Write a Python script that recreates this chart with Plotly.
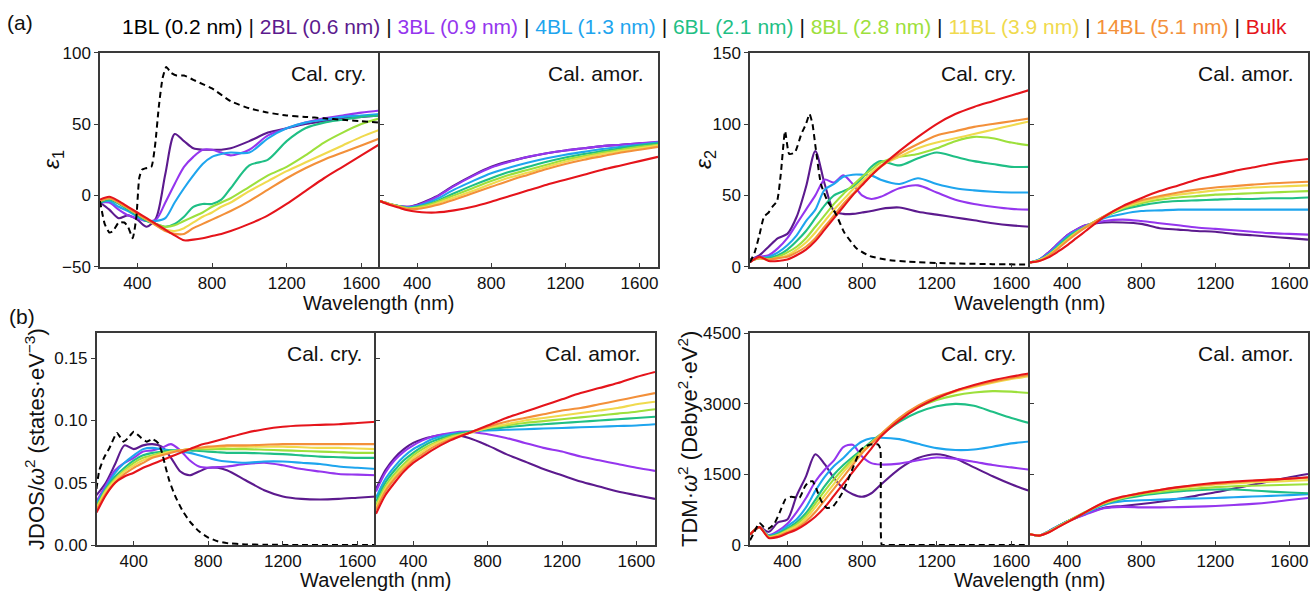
import plotly.graph_objects as go

W, H = 1312, 592
FONT = "Liberation Sans, Arial, Helvetica, sans-serif"

SERIES = ["1BL (0.2 nm)", "2BL (0.6 nm)", "3BL (0.9 nm)", "4BL (1.3 nm)", "6BL (2.1 nm)",
          "8BL (2.8 nm)", "11BL (3.9 nm)", "14BL (5.1 nm)", "Bulk"]
COLORS = ["#000000", "#5c1a8e", "#9536ee", "#1ea5ee", "#1fbf85", "#9de03c", "#f0da4e", "#f3903a", "#e5141b"]

WL_CRY = [200, 250, 300, 350, 400, 450, 500, 550, 600, 650, 700, 750, 800, 850, 900,
          1000, 1100, 1200, 1300, 1400, 1500, 1600, 1700]
WL_AMOR = [200, 250, 300, 350, 400, 450, 500, 600, 700, 800, 900, 1000, 1100, 1200,
           1300, 1400, 1500, 1600, 1700]
X_TICKS = [400, 800, 1200, 1600]

# ---------------- epsilon_1, crystalline ----------------
EPS1_CRY_1BL_X = [200, 225, 250, 270, 300, 330, 350, 375, 395, 410, 425, 445, 475, 495, 515, 535,
                  555, 580, 610, 650, 700, 750, 800, 900, 1000, 1100, 1200, 1300, 1400, 1500, 1600, 1700]
EPS1_CRY_1BL = [-4, -20, -26, -25, -19, -19, -22, -30, -15, 12, 18, 19, 20, 35, 62, 82,
                90, 86, 84, 84, 81, 78, 75, 66, 61, 58, 56, 55, 54, 53, 52, 51]
EPS1_CRY_2BL = [-5, -10, -16, -14, -17, -22, -16, 15, 43, 38, 33, 32, 32, 32, 33, 38, 44, 47, 50, 52, 54, 55, 56]
EPS1_CRY_3BL = [-5, -5, -10, -14, -16, -18, -17, -5, 8, 20, 27, 32, 32, 30, 28, 32, 42, 47, 51, 54, 56, 58, 59.5]
EPS1_CRY_4BL = [-5, -4, -8, -11, -15, -18, -18, -16, -5, 5, 14, 22, 27, 29, 30, 30, 40, 47, 51, 53, 55, 56, 57]
EPS1_CRY_6BL = [-5, -3, -6, -10, -14, -18, -20, -22, -20, -15, -8, -6, -6, -3, 5, 21, 25, 38, 47, 51, 53, 55, 56]
EPS1_CRY_8BL = [-4, -2, -5, -9, -13, -17, -20, -22, -21, -18, -15, -12, -8, -5, -2, 6, 14, 20, 28, 37, 44, 50, 54]
EPS1_CRY_11BL = [-4, -2, -5, -9, -13, -17, -21, -24, -25, -23, -19, -15, -12, -8, -5, 3, 10, 17, 23, 29, 35, 41, 46]
EPS1_CRY_14BL = [-4, -2, -5, -9, -13, -17, -21, -25, -27, -27, -23, -20, -17, -14, -11, -4, 4, 12, 19, 25, 30, 35, 40]
EPS1_CRY_BULK = [-3, -1, -4, -8, -12, -16, -20, -24, -28, -31.5, -31, -30, -28.5, -27, -25, -20, -14, -6, 3, 12, 20, 28, 36]

# ---------------- epsilon_1, amorphous ----------------
EPS1_AMOR_2BL = [-4, -6, -7.5, -8, -6.5, -4, -1, 7, 14, 20, 24, 27, 29.5, 31.5, 33, 34.5, 35.5, 36.5, 37]
EPS1_AMOR_3BL = [-4, -6, -7.5, -8, -7, -4.5, -1.5, 6.5, 13.5, 19.5, 23.5, 27, 29.5, 31.5, 33, 34.5, 35.5, 36.5, 37.5]
EPS1_AMOR_4BL = [-4, -6, -7.5, -8.5, -7.5, -5.5, -3, 4, 10, 15.5, 19.5, 23, 26, 28.5, 30.5, 32.5, 34, 35.5, 37]
EPS1_AMOR_6BL = [-4, -6, -7.5, -9, -8, -6.5, -4.5, 1.5, 7, 12, 16.5, 20, 23.5, 26.5, 29, 31, 33, 35, 36.5]
EPS1_AMOR_8BL = [-4, -6, -7.5, -9, -8.5, -7, -5, 0, 5, 10, 14.5, 18, 21.5, 25, 27.5, 30, 32, 34, 35.5]
EPS1_AMOR_11BL = [-4, -6, -8, -9.5, -9, -8, -6, -1.5, 3, 8, 12.5, 16, 20, 23.5, 26.5, 29, 31, 33, 35]
EPS1_AMOR_14BL = [-4, -6, -8, -9.5, -9.5, -8.5, -7, -3, 1.5, 6, 10.5, 14.5, 18.5, 22, 25, 27.5, 30, 32, 34]
EPS1_AMOR_BULK = [-4, -6.5, -8.5, -10.5, -11.5, -12, -12, -10.5, -8, -4.5, -0.5, 3.5, 7.5, 11, 14.5, 18, 21, 24, 27]

# ---------------- epsilon_2, crystalline ----------------
EPS2_CRY_1BL_X = [200, 225, 250, 275, 300, 320, 345, 365, 388, 410, 440, 475, 500, 519, 535, 550,
                  580, 615, 660, 705, 770, 840, 950, 1050, 1250, 1500, 1700]
EPS2_CRY_1BL = [3, 10, 22, 35, 38, 42, 46, 65, 95, 79, 80, 93, 100, 107, 100, 85,
                58, 46, 37, 24, 13, 7.5, 4.5, 3.5, 2.4, 1.8, 1.5]
EPS2_CRY_2BL = [5, 8, 14, 20, 23, 35, 56, 81, 58, 39, 37, 37, 38, 39, 40.5, 41.5, 38.5, 36.5, 34.5, 32.5, 30.5, 29, 28]
EPS2_CRY_3BL = [5, 7, 8, 13, 20, 30, 40, 50, 61, 59, 64, 58, 50, 47.5, 49, 55, 57, 52, 47, 44, 42, 40.5, 40]
EPS2_CRY_4BL = [5, 6, 7, 10, 15, 22, 32, 40, 54, 58, 63, 64.5, 64.5, 64, 61, 58, 62, 58, 55, 53.5, 52.5, 52, 52]
EPS2_CRY_6BL = [4, 6, 6, 8, 12, 18, 25, 34, 43, 50, 53, 56, 62, 70, 74, 71, 76, 80, 77, 74, 72, 70, 70]
EPS2_CRY_8BL = [4, 6, 5, 7, 10, 14, 20, 28, 36, 44, 51, 57, 63, 68, 73, 77, 79, 83, 88, 91, 90, 87, 85]
EPS2_CRY_11BL = [4, 6, 5, 6, 8, 12, 17, 24, 32, 40, 47, 54, 60, 66, 71, 77, 83, 87, 90, 93, 96, 99, 102]
EPS2_CRY_14BL = [4, 6, 5, 6, 7, 10, 14, 20, 28, 36, 44, 51, 58, 64, 70, 79, 86, 92, 95, 98, 100, 102, 104]
EPS2_CRY_BULK = [3, 7, 4, 4, 5, 8, 12, 18, 26, 34, 42, 50, 57, 64, 70, 81, 91, 100, 107, 112, 116, 120, 124]

# ---------------- epsilon_2, amorphous ----------------
EPS2_AMOR_2BL = [3, 5, 10, 16, 22, 26, 29, 31, 31, 30, 27, 26, 25, 24.5, 23, 22, 21, 20, 19]
EPS2_AMOR_3BL = [3, 5, 10, 16, 22, 26, 29, 32, 33, 32, 30.5, 29, 27.5, 26.5, 25.5, 24.5, 23.5, 23, 22.5]
EPS2_AMOR_4BL = [3, 5, 9, 15, 21, 25, 28, 34, 37, 39, 39.5, 40, 40, 40, 40, 40, 40, 40, 40]
EPS2_AMOR_6BL = [3, 4.5, 8.5, 14, 20, 24.5, 28, 35, 40, 43, 45, 46, 46.5, 47, 47.5, 47.5, 48, 48, 48.5]
EPS2_AMOR_8BL = [3, 4.5, 8, 13.5, 19, 24, 28, 35, 41, 44.5, 47, 48.5, 49.5, 50.5, 51, 51.5, 52, 52.5, 53]
EPS2_AMOR_11BL = [3, 4.5, 8, 13, 18.5, 23.5, 27.5, 35, 41.5, 45.5, 48.5, 50.5, 52, 53.5, 54.5, 55.5, 56, 56.5, 57]
EPS2_AMOR_14BL = [3, 4, 7.5, 12.5, 18, 23, 27.5, 35.5, 42, 46.5, 49.5, 52, 54, 55.5, 56.5, 57.5, 58.5, 59, 59.5]
EPS2_AMOR_BULK = [3, 4, 6.5, 10.5, 15, 20, 25, 35, 42.5, 48, 53, 57, 61, 64, 67, 69.5, 72, 74, 75.5]

# ---------------- JDOS/omega^2, crystalline ----------------
JDOS_CRY_1BL_X = [200, 215, 240, 270, 310, 345, 370, 400, 440, 470, 500, 530, 550, 570, 590, 620,
                  660, 700, 750, 800, 850, 900, 1000, 1100, 1300, 1700]
JDOS_CRY_1BL = [0.045, 0.06, 0.07, 0.078, 0.09, 0.083, 0.086, 0.091, 0.086, 0.083, 0.085, 0.082, 0.075,
                0.063, 0.052, 0.04, 0.028, 0.019, 0.011, 0.006, 0.003, 0.0015, 0.0005, 0.0002, 0, 0]
JDOS_CRY_2BL = [0.04, 0.05, 0.065, 0.08, 0.077, 0.08, 0.081, 0.079, 0.07, 0.059, 0.056, 0.059, 0.062, 0.062,
                0.06, 0.052, 0.044, 0.039, 0.037, 0.0365, 0.037, 0.038, 0.039]
JDOS_CRY_3BL = [0.035, 0.048, 0.06, 0.066, 0.07, 0.075, 0.076, 0.078, 0.081, 0.076, 0.068, 0.063, 0.062,
                0.0625, 0.063, 0.065, 0.066, 0.064, 0.061, 0.059, 0.057, 0.0565, 0.056]
JDOS_CRY_4BL = [0.033, 0.046, 0.058, 0.066, 0.072, 0.077, 0.078, 0.077, 0.076, 0.075, 0.074, 0.072, 0.07,
                0.068, 0.067, 0.066, 0.067, 0.067, 0.066, 0.065, 0.063, 0.062, 0.061]
JDOS_CRY_6BL = [0.031, 0.045, 0.055, 0.062, 0.068, 0.072, 0.074, 0.075, 0.076, 0.076, 0.076, 0.0755, 0.075,
                0.0745, 0.074, 0.074, 0.0735, 0.073, 0.072, 0.071, 0.0705, 0.07, 0.07]
JDOS_CRY_8BL = [0.03, 0.044, 0.053, 0.06, 0.066, 0.07, 0.072, 0.074, 0.075, 0.076, 0.077, 0.077, 0.077,
                0.077, 0.077, 0.077, 0.0765, 0.076, 0.0755, 0.075, 0.0745, 0.074, 0.074]
JDOS_CRY_11BL = [0.029, 0.043, 0.052, 0.059, 0.064, 0.068, 0.071, 0.073, 0.075, 0.076, 0.077, 0.078, 0.078,
                 0.0785, 0.079, 0.079, 0.079, 0.079, 0.0785, 0.078, 0.078, 0.0775, 0.077]
JDOS_CRY_14BL = [0.028, 0.041, 0.05, 0.057, 0.062, 0.066, 0.07, 0.072, 0.074, 0.076, 0.077, 0.078, 0.079,
                 0.0795, 0.08, 0.08, 0.0805, 0.081, 0.081, 0.081, 0.081, 0.081, 0.081]
JDOS_CRY_BULK = [0.026, 0.04, 0.05, 0.055, 0.058, 0.062, 0.065, 0.068, 0.071, 0.074, 0.077, 0.08, 0.082,
                 0.084, 0.086, 0.09, 0.093, 0.095, 0.096, 0.0965, 0.097, 0.098, 0.099]

# ---------------- JDOS/omega^2, amorphous ----------------
JDOS_AMOR_2BL = [0.045, 0.06, 0.07, 0.077, 0.082, 0.085, 0.087, 0.089, 0.086, 0.08, 0.073, 0.067, 0.061,
                 0.056, 0.051, 0.047, 0.043, 0.04, 0.037]
JDOS_AMOR_3BL = [0.043, 0.058, 0.068, 0.075, 0.08, 0.084, 0.087, 0.09, 0.091, 0.089, 0.086, 0.082, 0.078,
                 0.075, 0.071, 0.068, 0.065, 0.062, 0.0595]
JDOS_AMOR_4BL = [0.038, 0.053, 0.063, 0.071, 0.077, 0.081, 0.085, 0.089, 0.091, 0.092, 0.0925, 0.093, 0.0935,
                 0.094, 0.0945, 0.095, 0.0955, 0.096, 0.097]
JDOS_AMOR_6BL = [0.035, 0.05, 0.06, 0.068, 0.074, 0.079, 0.083, 0.088, 0.091, 0.093, 0.0945, 0.096, 0.097,
                 0.098, 0.099, 0.1, 0.101, 0.102, 0.103]
JDOS_AMOR_8BL = [0.032, 0.047, 0.057, 0.065, 0.072, 0.077, 0.081, 0.087, 0.09, 0.094, 0.096, 0.098, 0.0995,
                 0.101, 0.1025, 0.104, 0.1055, 0.107, 0.109]
JDOS_AMOR_11BL = [0.03, 0.045, 0.055, 0.063, 0.07, 0.075, 0.08, 0.086, 0.09, 0.094, 0.097, 0.1, 0.102,
                  0.104, 0.106, 0.108, 0.11, 0.113, 0.115]
JDOS_AMOR_14BL = [0.028, 0.043, 0.053, 0.061, 0.068, 0.073, 0.078, 0.085, 0.09, 0.095, 0.099, 0.102, 0.105,
                  0.108, 0.11, 0.113, 0.116, 0.119, 0.122]
JDOS_AMOR_BULK = [0.025, 0.04, 0.05, 0.059, 0.066, 0.071, 0.076, 0.084, 0.09, 0.096, 0.102, 0.107, 0.112,
                  0.117, 0.122, 0.126, 0.13, 0.135, 0.139]

# ---------------- TDM*omega^2, crystalline ----------------
TDM_CRY_1BL_X = [200, 220, 250, 275, 300, 330, 360, 390, 420, 465, 495, 515, 535, 555, 580, 610, 640,
                 670, 700, 740, 795, 840, 885, 898, 906, 920, 1100, 1400, 1700]
TDM_CRY_1BL = [100, 250, 470, 380, 350, 450, 700, 970, 1025, 1005, 1250, 1340, 1356, 1200, 950, 790, 800,
               950, 1150, 1530, 2030, 2130, 2140, 2050, 0, 0, 0, 0, 0]
TDM_CRY_2BL = [220, 380, 280, 480, 540, 1050, 1460, 1930, 1720, 1420, 1200, 1080, 1025, 1100, 1280, 1620,
               1850, 1930, 1840, 1650, 1460, 1290, 1145]
TDM_CRY_3BL = [220, 380, 210, 300, 450, 700, 1000, 1350, 1600, 1800, 2080, 2130, 1880, 1740, 1710, 1730,
               1800, 1860, 1830, 1770, 1700, 1650, 1600]
TDM_CRY_4BL = [220, 380, 200, 260, 400, 550, 800, 1150, 1450, 1680, 1850, 2050, 2200, 2270, 2280, 2250,
               2150, 2060, 2020, 2030, 2090, 2160, 2200]
TDM_CRY_6BL = [220, 380, 190, 240, 350, 480, 680, 960, 1250, 1500, 1700, 1870, 2030, 2200, 2350, 2620,
               2820, 2950, 3000, 2960, 2830, 2700, 2590]
TDM_CRY_8BL = [220, 380, 180, 220, 320, 440, 620, 880, 1150, 1400, 1620, 1820, 2000, 2180, 2350, 2680,
               2920, 3080, 3180, 3240, 3270, 3260, 3230]
TDM_CRY_11BL = [220, 380, 170, 210, 300, 400, 560, 800, 1050, 1300, 1550, 1770, 1980, 2170, 2350, 2690,
                2950, 3130, 3260, 3360, 3450, 3530, 3590]
TDM_CRY_14BL = [220, 380, 160, 190, 270, 360, 500, 700, 950, 1200, 1450, 1700, 1950, 2150, 2350, 2700,
                2960, 3150, 3280, 3380, 3470, 3550, 3620]
TDM_CRY_BULK = [220, 380, 150, 170, 250, 330, 450, 600, 800, 1050, 1300, 1550, 1800, 2050, 2300, 2650,
                2920, 3120, 3280, 3400, 3500, 3580, 3650]

# ---------------- TDM*omega^2, amorphous ----------------
TDM_AMOR_2BL = [230, 200, 290, 400, 500, 580, 660, 790, 830, 870, 920, 980, 1050, 1120, 1200, 1280, 1360, 1440, 1510]
TDM_AMOR_3BL = [230, 200, 290, 400, 500, 580, 650, 780, 810, 800, 800, 805, 815, 830, 850, 875, 910, 955, 1000]
TDM_AMOR_4BL = [230, 200, 290, 400, 500, 590, 680, 850, 930, 950, 965, 980, 990, 1000, 1015, 1030, 1045, 1060, 1080]
TDM_AMOR_6BL = [230, 200, 285, 395, 500, 600, 700, 870, 980, 1050, 1100, 1140, 1165, 1180, 1180, 1160, 1135, 1115, 1100]
TDM_AMOR_8BL = [230, 200, 280, 390, 495, 600, 700, 880, 1000, 1080, 1130, 1170, 1200, 1230, 1250, 1260, 1270, 1280, 1290]
TDM_AMOR_11BL = [230, 200, 275, 385, 490, 595, 700, 890, 1010, 1100, 1160, 1210, 1250, 1285, 1310, 1330, 1345, 1360, 1380]
TDM_AMOR_14BL = [230, 200, 270, 380, 485, 590, 700, 900, 1020, 1110, 1170, 1225, 1265, 1300, 1330, 1360, 1390, 1410, 1430]
TDM_AMOR_BULK = [230, 200, 265, 375, 480, 585, 700, 910, 1030, 1100, 1170, 1230, 1280, 1320, 1350, 1370, 1390, 1410, 1440]

Y_RANGES = [[-50, 100], [0, 150], [0, 0.17], [0, 4500]]
Y_TICKS = [[-50, 0, 50, 100], [0, 50, 100, 150], [0, 0.05, 0.10, 0.15], [0, 1500, 3000, 4500]]
Y_FORMATS = ["", "", ".2f", ""]

PANELS = [
    dict(wl=WL_CRY, ys=[EPS1_CRY_2BL, EPS1_CRY_3BL, EPS1_CRY_4BL, EPS1_CRY_6BL, EPS1_CRY_8BL,
                        EPS1_CRY_11BL, EPS1_CRY_14BL, EPS1_CRY_BULK], ref=(EPS1_CRY_1BL_X, EPS1_CRY_1BL), q=0),
    dict(wl=WL_AMOR, ys=[EPS1_AMOR_2BL, EPS1_AMOR_3BL, EPS1_AMOR_4BL, EPS1_AMOR_6BL, EPS1_AMOR_8BL,
                         EPS1_AMOR_11BL, EPS1_AMOR_14BL, EPS1_AMOR_BULK], ref=None, q=0),
    dict(wl=WL_CRY, ys=[EPS2_CRY_2BL, EPS2_CRY_3BL, EPS2_CRY_4BL, EPS2_CRY_6BL, EPS2_CRY_8BL,
                        EPS2_CRY_11BL, EPS2_CRY_14BL, EPS2_CRY_BULK], ref=(EPS2_CRY_1BL_X, EPS2_CRY_1BL), q=1),
    dict(wl=WL_AMOR, ys=[EPS2_AMOR_2BL, EPS2_AMOR_3BL, EPS2_AMOR_4BL, EPS2_AMOR_6BL, EPS2_AMOR_8BL,
                         EPS2_AMOR_11BL, EPS2_AMOR_14BL, EPS2_AMOR_BULK], ref=None, q=1),
    dict(wl=WL_CRY, ys=[JDOS_CRY_2BL, JDOS_CRY_3BL, JDOS_CRY_4BL, JDOS_CRY_6BL, JDOS_CRY_8BL,
                        JDOS_CRY_11BL, JDOS_CRY_14BL, JDOS_CRY_BULK], ref=(JDOS_CRY_1BL_X, JDOS_CRY_1BL), q=2),
    dict(wl=WL_AMOR, ys=[JDOS_AMOR_2BL, JDOS_AMOR_3BL, JDOS_AMOR_4BL, JDOS_AMOR_6BL, JDOS_AMOR_8BL,
                         JDOS_AMOR_11BL, JDOS_AMOR_14BL, JDOS_AMOR_BULK], ref=None, q=2),
    dict(wl=WL_CRY, ys=[TDM_CRY_2BL, TDM_CRY_3BL, TDM_CRY_4BL, TDM_CRY_6BL, TDM_CRY_8BL,
                        TDM_CRY_11BL, TDM_CRY_14BL, TDM_CRY_BULK], ref=(TDM_CRY_1BL_X, TDM_CRY_1BL), q=3),
    dict(wl=WL_AMOR, ys=[TDM_AMOR_2BL, TDM_AMOR_3BL, TDM_AMOR_4BL, TDM_AMOR_6BL, TDM_AMOR_8BL,
                         TDM_AMOR_11BL, TDM_AMOR_14BL, TDM_AMOR_BULK], ref=None, q=3),
]

# pixel layout of the panels
ROW_Y = [(52.7, 266.7), (333.3, 545.0)]
COL_X = [[(100, 380), (380, 658), (750, 1030), (1030, 1308)],
         [(96.5, 376), (376, 655), (750, 1030), (1030, 1308)]]


def px(x):
    return x / W


def py(y):
    return 1 - y / H


AX_COLOR = "#3a3a3a"
TXT = "#111111"
TICK_SIZE = 17

fig = go.Figure()
layout = dict(width=W, height=H, autosize=False, margin=dict(l=0, r=0, t=0, b=0, pad=0,
                                                               autoexpand=False),
              showlegend=False, plot_bgcolor="white", paper_bgcolor="white",
              font=dict(family=FONT, color=TXT))

for i, p in enumerate(PANELS):
    n = i + 1
    row = 0 if i < 4 else 1
    col = i % 4
    left = col % 2 == 0
    xs = "x" if n == 1 else f"x{n}"
    ysn = "y" if n == 1 else f"y{n}"
    for k, yv in enumerate(p["ys"]):
        fig.add_trace(go.Scatter(x=p["wl"], y=yv, mode="lines", xaxis=xs, yaxis=ysn,
                                 line=dict(color=COLORS[k + 1], width=2.1, shape="spline", smoothing=0.8),
                                 name=SERIES[k + 1], hoverinfo="skip"))
    if p["ref"] is not None:
        fig.add_trace(go.Scatter(x=p["ref"][0], y=p["ref"][1], mode="lines", xaxis=xs, yaxis=ysn,
                                 line=dict(color=COLORS[0], width=2, dash="6px,4px", shape="spline",
                                           smoothing=0.5),
                                 name=SERIES[0], hoverinfo="skip"))
    x0, x1 = COL_X[row][col]
    y0, y1 = ROW_Y[row]
    q = p["q"]
    xkey = "xaxis" if n == 1 else f"xaxis{n}"
    ykey = "yaxis" if n == 1 else f"yaxis{n}"
    layout[xkey] = dict(domain=[px(x0), px(x1)], anchor=ysn, range=[200, 1700], tickvals=X_TICKS,
                        ticks="inside", ticklen=4, tickwidth=1.2, tickcolor=AX_COLOR, automargin=False,
                        showline=True, mirror=True, linecolor=AX_COLOR, linewidth=1.5,
                        showgrid=False, zeroline=False, tickfont=dict(size=TICK_SIZE, color=TXT))
    # left panel: only its own left edge; right panel: divider + right edge (mirror)
    layout[ykey] = dict(domain=[py(y1), py(y0)], anchor=xs, range=Y_RANGES[q], tickvals=Y_TICKS[q],
                        tickformat=Y_FORMATS[q], ticks="outside" if left else "inside", ticklen=4,
                        tickwidth=1.2, tickcolor=AX_COLOR, showticklabels=left, automargin=False,
                        showline=True, mirror=(not left), linecolor=AX_COLOR, linewidth=1.5,
                        showgrid=False, zeroline=False, tickfont=dict(size=TICK_SIZE, color=TXT))

ann = []


def text(x, y, s, size, xanchor="center", yanchor="middle", angle=0):
    ann.append(dict(x=px(x), y=py(y), xref="paper", yref="paper", text=s, showarrow=False,
                    xanchor=xanchor, yanchor=yanchor, textangle=angle,
                    font=dict(size=size, family=FONT, color=TXT)))


# colour-coded legend line
legend_txt = " | ".join(f"<span style='color:{c}'>{s}</span>" for s, c in zip(SERIES, COLORS))
text(704, 26, legend_txt, 21)
text(20, 22, "(a)", 21)
text(22, 316, "(b)", 21)

# Cal. labels
for row in range(2):
    for col in range(4):
        x1 = COL_X[row][col][1]
        yy = 73 if row == 0 else 353
        text(x1 - 12, yy, "Cal. cry." if col % 2 == 0 else "Cal. amor.", 21, xanchor="right")

# x titles
text(379, 302.5, "Wavelength (nm)", 20)
text(1030, 302.5, "Wavelength (nm)", 20)
text(376, 580, "Wavelength (nm)", 20)
text(1030, 580, "Wavelength (nm)", 20)

# y titles
text(52, 160, "<i>ε</i><sub>1</sub>", 23, angle=-90)
text(704, 160, "<i>ε</i><sub>2</sub>", 23, angle=-90)
text(35, 439, "JDOS/<i>ω</i><sup>2</sup> (states·eV<sup>−3</sup>)", 22, angle=-90)
text(688, 439, "TDM·<i>ω</i><sup>2</sup> (Debye<sup>2</sup>·eV<sup>2</sup>)", 22, angle=-90)

layout["annotations"] = ann
fig.update_layout(**layout)
fig.write_html("out.html", config={"displayModeBar": False, "responsive": False},
               post_script="document.body.style.margin='0px';document.body.style.overflow='hidden';")
